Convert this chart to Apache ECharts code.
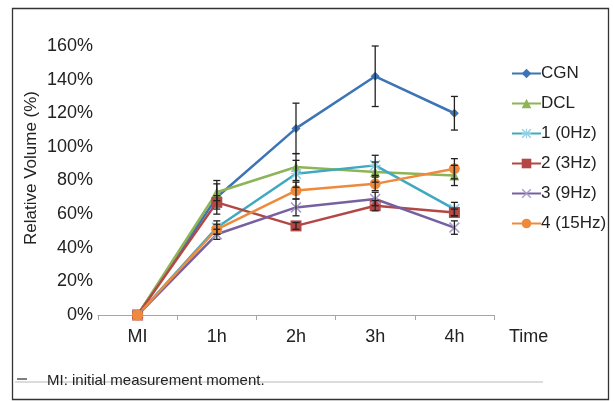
<!DOCTYPE html>
<html>
<head>
<meta charset="utf-8">
<script src="https://cdn.jsdelivr.net/npm/echarts@6/dist/echarts.min.js"></script>
<style>
  html, body { margin: 0; padding: 0; background: #fff; }
  #chart { width: 614px; height: 401px; }
</style>
</head>
<body>
<div id="chart"></div>
<script>
// 时间点
const times = ['MI', '1h', '2h', '3h', '4h'];
const names = ['CGN', 'DCL', '1 (0Hz)', '2 (3Hz)', '3 (9Hz)', '4 (15Hz)'];
// 各组相对体积 (%)
const cgn    = [0, 70, 111, 142, 120];
const dcl    = [0, 73, 88, 85, 83];
const hz0    = [0, 52, 84, 89, 63];
const hz3    = [0, 67, 53, 65, 61];
const hz9    = [0, 48, 64, 69, 52];
const hz15   = [0, 51, 74, 78, 87];
// 误差 (±)
const cgnErr  = [0, 10, 15, 18, 10];
const dclErr  = [0, 5, 8, 6, 6];
const hz0Err  = [0, 4, 8, 6, 4];
const hz3Err  = [0, 4, 2, 3, 2];
const hz9Err  = [0, 3, 5, 4, 4];
const hz15Err = [0, 3, 5, 4, 6];
const yTicks = [0, 20, 40, 60, 80, 100, 120, 140, 160];

const colors = ['#3d74b6', '#8db456', '#3fa9c2', '#b34745', '#7660a0', '#ee8a3c'];
const markerColors = ['#3d74b6', '#8db456', '#8fd0e6', '#b34745', '#a99bc9', '#ee8a3c'];
const xPath = 'path://M0,1L1,0L5,4L9,0L10,1L6,5L10,9L9,10L5,6L1,10L0,9L4,5Z';
const starPath = 'path://M0,1L1,0L5,4L9,0L10,1L6,5L10,9L9,10L5,6L1,10L0,9L4,5ZM4.5,0L5.5,0L5.5,10L4.5,10ZM0,4.5L10,4.5L10,5.5L0,5.5Z';
const symbols = ['diamond', 'triangle', starPath, 'rect', xPath, 'circle'];
const symbolSizes = [9, 10, 11, 11, 11, 11];

const values = [cgn, dcl, hz0, hz3, hz9, hz15];
const errors = [cgnErr, dclErr, hz0Err, hz3Err, hz9Err, hz15Err];
const font = '"Liberation Sans", Arial, sans-serif';

const myChart = echarts.init(document.getElementById('chart'));

const lineSeries = names.map(function (name, k) {
    return {
        name: name,
        type: 'line',
        data: values[k],
        symbol: symbols[k],
        symbolSize: symbolSizes[k],
        z: 2,
        lineStyle: { color: colors[k], width: 2.5 },
        itemStyle: { color: markerColors[k] }
    };
});

const errData = [];
values.forEach(function (arr, k) {
    arr.forEach(function (v, i) {
        if (errors[k][i] > 0) errData.push([i, v - errors[k][i], v + errors[k][i]]);
    });
});

const errSeries = {
    type: 'custom',
    z: 3,
    silent: true,
    data: errData,
    renderItem: function (params, api) {
        const lo = api.coord([api.value(0), api.value(1)]);
        const hi = api.coord([api.value(0), api.value(2)]);
        const w = 3.5;
        const st = { stroke: '#222', lineWidth: 1.3 };
        return {
            type: 'group',
            children: [
                { type: 'line', shape: { x1: lo[0], y1: lo[1], x2: hi[0], y2: hi[1] }, style: st },
                { type: 'line', shape: { x1: lo[0] - w, y1: lo[1], x2: lo[0] + w, y2: lo[1] }, style: st },
                { type: 'line', shape: { x1: hi[0] - w, y1: hi[1], x2: hi[0] + w, y2: hi[1] }, style: st }
            ]
        };
    }
};

const option = {
    animation: false,
    textStyle: { fontFamily: font },
    grid: { left: 98, right: 120, top: 46, bottom: 86 },
    legend: {
        orient: 'vertical',
        left: 506,
        top: 60,
        itemWidth: 29,
        itemHeight: 12,
        itemGap: 13,
        data: names,
        textStyle: { fontFamily: font, fontSize: 17, color: '#222', padding: [0, 0, 0, -5] }
    },
    xAxis: {
        type: 'category',
        data: times,
        boundaryGap: true,
        name: 'Time',
        nameLocation: 'end',
        nameGap: 15,
        nameTextStyle: { fontFamily: font, fontSize: 18, color: '#222', verticalAlign: 'top', padding: [13, 0, 0, 0] },
        axisLine: { lineStyle: { color: '#a6a6a6', width: 1.2 } },
        axisTick: { show: true, length: 5, interval: 0, lineStyle: { color: '#a6a6a6' } },
        axisLabel: { fontFamily: font, fontSize: 18, color: '#222', margin: 13 },
        splitLine: { show: false }
    },
    yAxis: {
        type: 'value',
        min: yTicks[0],
        max: yTicks[yTicks.length - 1],
        interval: 20,
        axisLine: { show: false },
        axisTick: { show: false },
        axisLabel: { fontFamily: font, fontSize: 18, color: '#222', margin: 5, formatter: '{value}%' },
        splitLine: { show: false }
    },
    graphic: [
        { type: 'rect', shape: { x: 12.5, y: 8.5, width: 596, height: 391 }, style: { fill: null, stroke: '#333', lineWidth: 1.3 }, z: 0 },
        { type: 'line', shape: { x1: 15, y1: 382, x2: 543, y2: 382 }, style: { stroke: '#d0d0d0', lineWidth: 1.5 } },
        { type: 'line', shape: { x1: 17, y1: 379, x2: 27, y2: 379 }, style: { stroke: '#555', lineWidth: 1.5 } },
        { type: 'text', left: 47, top: 373, style: { text: 'MI: initial measurement moment.', font: '15px ' + font, fill: '#222' }, z: 10 },
        {
            type: 'text', x: 31, y: 168, rotation: Math.PI / 2,
            style: { text: 'Relative Volume (%)', font: '17px ' + font, fill: '#222', align: 'center', verticalAlign: 'middle' }
        }
    ],
    series: lineSeries.concat([errSeries])
};

myChart.setOption(option);
</script>
</body>
</html>
